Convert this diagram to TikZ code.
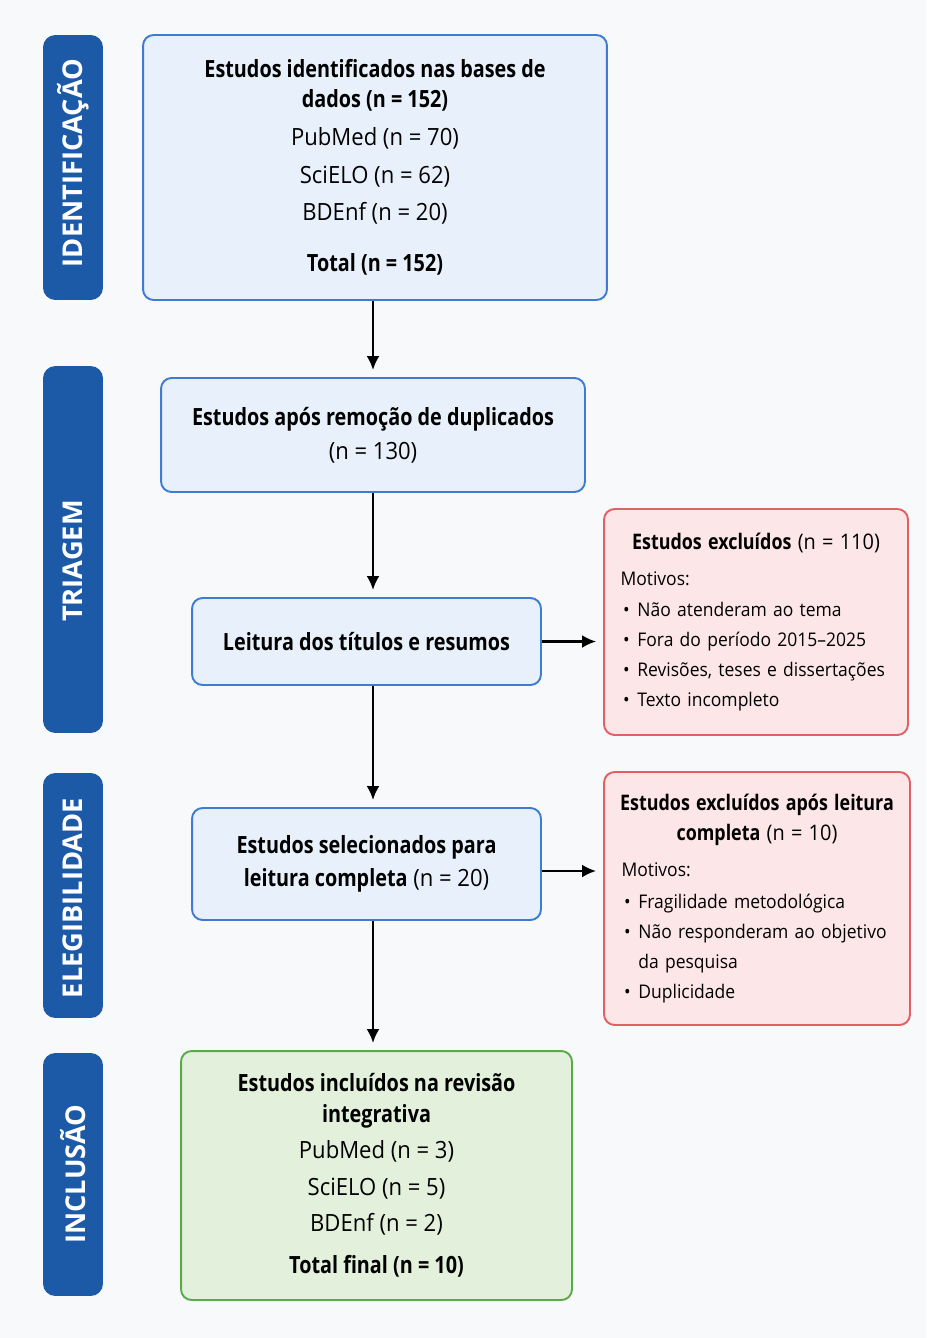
\documentclass[tikz,border=0pt]{standalone}
\usepackage{fontspec}
\setmainfont{Open Sans}[FakeStretch=0.93, BoldFeatures={FakeStretch=0.835}]
\newfontfamily\barfont{Open Sans}
\usepackage{tikz}
\usetikzlibrary{arrows.meta}
\usetikzlibrary{calc}
\tikzset{>={Latex[length=2.8mm,width=2.6mm]}}
\definecolor{pagebg}{RGB}{248,249,250}
\definecolor{barblue}{RGB}{28,90,168}
\definecolor{blueline}{RGB}{62,123,209}
\definecolor{bluefill}{RGB}{232,241,251}
\definecolor{redline}{RGB}{224,96,100}
\definecolor{redfill}{RGB}{252,230,232}
\definecolor{greenline}{RGB}{91,170,74}
\definecolor{greenfill}{RGB}{227,241,220}
\tikzset{
  box/.style={draw, rounded corners=6pt, line width=1.1pt, inner sep=0pt, font=\fontsize{13.5}{17}\selectfont},
  bluebox/.style={box, draw=blueline, fill=bluefill, align=center},
  greenbox/.style={box, draw=greenline, fill=greenfill, align=center},
  redbox/.style={box, draw=redline, fill=redfill, align=left, text width=5.7cm, font=\fontsize{10.7}{17}\selectfont},
  phase/.style={fill=barblue, rounded corners=7pt, minimum width=1.2cm, inner sep=0pt},
  phasetext/.style={text=white, rotate=90, font=\barfont\bfseries\fontsize{15.5}{18}\selectfont},
  flow/.style={->, line width=1.4pt, shorten >=4pt},
}
\newcommand{\motivo}[1]{\par\noindent\makebox[9.6pt][l]{\hspace{1.5pt}\textbullet}#1}
\newcommand{\motivocont}[1]{\par\noindent\hspace*{9.6pt}#1}
\newcommand{\redhead}[1]{{\centering\fontsize{12.2}{17}\selectfont#1\par}}

\begin{document}
\begin{tikzpicture}[x=0.02cm, y=-0.02cm]
                \fill[pagebg] (0,0) rectangle (926,1338);
                \useasboundingbox (0,0) rectangle (926,1338);

                % phase bars on the left
                \node[phase, minimum height=5.3cm] (idbar) at (73,167.5) {};
                \node[phase, minimum height=7.34cm] (tribar) at (73,549.5) {};
                \node[phase, minimum height=4.9cm] (elebar) at (73,895.5) {};
                \node[phase, minimum height=4.86cm] (incbar) at (73,1174.5) {};
                % phase names
                \node[phasetext] (idtext) at (73,163) {IDENTIFICAÇÃO};
                \node[phasetext] (tritext) at (73,561) {TRIAGEM};
                \node[phasetext] (eletext) at (73,898) {ELEGIBILIDADE};
                \node[phasetext] (inctext) at (73,1174) {INCLUSÃO};

                % identified
                \node[bluebox, minimum width=9.28cm, minimum height=5.3cm] (ident) at (375,167.5) {\textbf{Estudos identificados nas bases de}\\\textbf{dados (n = 152)}\\[4.6pt]PubMed (n = 70)\\[4.6pt]SciELO (n = 62)\\[4.2pt]BDEnf (n = 20)\\[12pt]\textbf{Total (n = 152)}};
                % after duplicates
                \node[bluebox, minimum width=8.48cm, minimum height=2.28cm] (dup) at (373,435) {\textbf{Estudos após remoção de duplicados}\\[2.3pt](n = 130)};
                % titles and abstracts
                \node[bluebox, minimum width=6.98cm, minimum height=1.74cm] (screen) at (366.5,641.5) {\textbf{Leitura dos títulos e resumos}};
                % full text
                \node[bluebox, minimum width=6.98cm, minimum height=2.24cm] (full) at (366.5,864) {\textbf{Estudos selecionados para}\\[2pt]\textbf{leitura completa} (n = 20)};
                % included
                \node[greenbox, minimum width=7.82cm, minimum height=4.98cm] (incl) at (376.5,1175.5) {\textbf{Estudos incluídos na revisão}\\[0.6pt]\textbf{integrativa}\\[3.4pt]PubMed (n = 3)\\[4pt]SciELO (n = 5)\\[3.4pt]BDEnf (n = 2)\\[7pt]\textbf{Total final (n = 10)}};

                % excluded after screening
                \node[redbox, minimum width=6.08cm, minimum height=4.52cm] (excl) at (756,622) {\raggedright\leftskip=0.14cm\redhead{\textbf{Estudos excluídos} (n = 110)}\vspace{3.4pt}\noindent Motivos:\par\vspace{1pt}\motivo{Não atenderam ao tema}\motivo{Fora do período 2015--2025}\motivo{Revisões, teses e dissertações}\motivo{Texto incompleto}\par};
                % excluded after full reading
                \node[redbox, minimum width=6.12cm, minimum height=5.06cm] (exclfull) at (757,898.5) {\raggedright\leftskip=0.14cm\redhead{\textbf{Estudos excluídos após leitura}\\\textbf{completa} (n = 10)}\vspace{3.6pt}\noindent Motivos:\par\vspace{1pt}\motivo{Fragilidade metodológica}\motivo{Não responderam ao objetivo}\motivocont{da pesquisa}\motivo{Duplicidade}\par};

                % ident to dup
                \draw[flow] (ident.south -| dup.north) -- (dup.north);
                % dup to screen
                \draw[flow] (dup.south) -- (dup.south |- screen.north);
                % screen to full
                \draw[flow] (screen.south -| dup.south) -- (full.north -| dup.south);
                % full to incl
                \draw[flow] (full.south -| dup.south) -- (incl.north -| dup.south);
                % screen to excl
                \draw[flow] (screen.east) -- (screen.east -| excl.west);
                % full to exclfull
                \draw[flow] ($(full.east)+(0,7)$) -- ($(full.east -| exclfull.west)+(0,7)$);
            \end{tikzpicture}
\end{document}
